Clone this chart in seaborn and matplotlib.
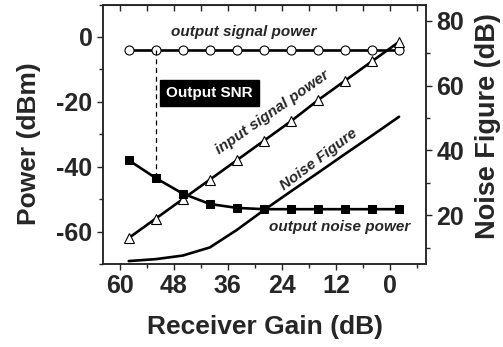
import matplotlib
matplotlib.use("Agg")
import matplotlib.pyplot as plt
import seaborn as sns
import pandas as pd
from matplotlib.ticker import MultipleLocator

# receiver gain (dB) at each measured point
gain = [58, 52, 46, 40, 34, 28, 22, 16, 10, 4, -2]
out_signal = [-4, -4, -4, -4, -4, -4, -4, -4, -4, -4, -4]
in_signal = [-62, -56, -50, -44, -38, -32, -26, -19.5, -13.5, -7.5, -1.5]
out_noise = [-38, -43.5, -48.3, -51.5, -52.7, -53.1, -53.1, -53.1, -53.1, -53.1, -53.1]
noise_fig = [5.9, 6.5, 7.6, 10.1, 15.5, 21.6, 27.4, 33.1, 38.9, 44.6, 50.4]

df = pd.DataFrame({"gain": gain, "out_signal": out_signal, "in_signal": in_signal,
                   "out_noise": out_noise, "nf": noise_fig})

sns.set_style("ticks")
plt.rcParams["font.family"] = ["Liberation Sans", "DejaVu Sans"]
plt.rcParams["font.weight"] = "bold"

fig = plt.figure(figsize=(5.03, 3.47), dpi=100)
ax = fig.add_axes([0.2048, 0.2392, 0.6423, 0.7478])
ax2 = ax.twinx()

lw = 1.9
sns.lineplot(data=df, x="gain", y="out_signal", ax=ax, color="black", lw=lw,
             marker="o", ms=6.5, mfc="white", mec="black", mew=0.8)
sns.lineplot(data=df, x="gain", y="in_signal", ax=ax, color="black", lw=lw,
             marker="^", ms=7, mfc="white", mec="black", mew=0.8)
sns.lineplot(data=df, x="gain", y="out_noise", ax=ax, color="black", lw=lw,
             marker="s", ms=5.5, mfc="black", mec="black")
sns.lineplot(data=df, x="gain", y="nf", ax=ax2, color="black", lw=lw)

# output SNR marker at 52 dB gain
ax.plot([gain[1], gain[1]], [out_signal[1], out_noise[1]], color="black",
        lw=0.9, ls=(0, (4, 3)))

ax.set_xlim(63.7, -8)
ax.set_ylim(-70, 10)
ax2.set_ylim(5, 85)

ax.xaxis.set_major_locator(MultipleLocator(12))
ax.xaxis.set_minor_locator(MultipleLocator(6))
ax.yaxis.set_major_locator(MultipleLocator(20))
ax.yaxis.set_minor_locator(MultipleLocator(10))
ax2.yaxis.set_major_locator(MultipleLocator(20))
ax2.yaxis.set_minor_locator(MultipleLocator(10))

ax.set_yticks([0, -20, -40, -60])
ax.set_yticklabels(["0", "-20", "-40", "-60"])

ax.tick_params(axis="x", which="both", direction="out", top=False, labelsize=18)
ax.tick_params(axis="y", which="both", direction="out", labelsize=18)
ax.tick_params(which="major", length=4, width=1)
ax.tick_params(which="minor", length=3, width=1)
ax2.tick_params(which="both", direction="out", labelsize=18)
ax2.tick_params(which="major", length=4, width=1)
ax2.tick_params(which="minor", length=3, width=1)
for lab in ax.get_xticklabels() + ax.get_yticklabels() + ax2.get_yticklabels():
    lab.set_fontweight("bold")

# top ticks point inward
sec = ax.secondary_xaxis("top")
sec.xaxis.set_major_locator(MultipleLocator(6))
sec.tick_params(direction="in", length=4, width=1, labeltop=False)

ax.set_xlabel("Receiver Gain (dB)", fontsize=19, fontweight="bold", labelpad=12)
ax.set_ylabel("")
ax2.set_ylabel("")
fig.text(29.5 / 503, 1 - 143.5 / 347, "Power (dBm)", fontsize=19, fontweight="bold",
         rotation=90, ha="center", va="center")
fig.text(488 / 503, 1 - 126 / 347, "Noise Figure (dB)", fontsize=19.5, fontweight="bold",
         rotation=90, ha="center", va="center")

for a in (ax, ax2):
    for s in a.spines.values():
        s.set_linewidth(1.1)

ital = dict(fontsize=11, fontstyle="italic", fontweight="bold", ha="center", va="center")
ax.text(32.4, 1.5, "output signal power", **ital)
ax.text(40.1, -17.4, "Output SNR", fontsize=11, fontweight="bold", color="white",
        ha="center", va="center",
        bbox=dict(boxstyle="square,pad=0.4", fc="black", ec="black"))
ax.text(26.2, -23.4, "input signal power", rotation=35, **ital)
ax.text(15.9, -37.8, "Noise Figure", rotation=37, **ital)
ax.text(11.2, -58.5, "output noise power", **ital)

fig.savefig("out.png", dpi=100)
